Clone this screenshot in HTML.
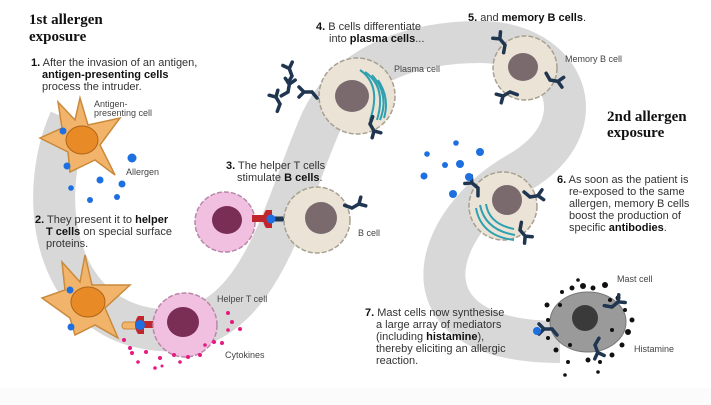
<!DOCTYPE html>
<html><head><meta charset="utf-8"><style>
html,body{margin:0;padding:0;background:#fff;}
svg{display:block;}
text{font-family:"Liberation Sans",sans-serif;font-size:11px;fill:#333;}
.h{font-family:"Liberation Serif",serif;font-weight:bold;font-size:15px;fill:#111;}
.l{font-size:9px;fill:#444;}
b,.b{font-weight:bold;fill:#111;}
</style></head><body>
<svg width="711" height="405" viewBox="0 0 711 405" xmlns="http://www.w3.org/2000/svg">
<defs>
<g id="ab"><path d="M0,0 L0,-8 M0,0 L-6,5 M0,-8 L-5,-13 M0,-8 L5,-13" stroke="#1f3550" stroke-width="3.5" fill="none" stroke-linecap="round"/></g>
</defs>
<rect x="0" y="388" width="711" height="17" fill="#fbfbfb"/>
<!-- band -->
<path d="M70,120 C35,200 55,322 160,330 C262,338 285,200 322,120 C352,60 420,42 480,42 C565,42 600,125 520,172 C430,222 395,342 560,342" fill="none" stroke="#d8d8d8" stroke-width="42"/>

<!-- APC 1 -->
<path d="M80,98 L88,125 L120,118 L100,145 L115,175 L95,160 L70,172 L68,152 L40,138 L62,128 L58,102 L75,120 Z" fill="#f2b46a" stroke="#c98a3c" stroke-width="1.5"/>
<ellipse cx="82" cy="140" rx="16" ry="14" fill="#e88a25" stroke="#b0641a"/>
<circle cx="63" cy="131" r="3.5" fill="#1e6fe0"/><circle cx="67" cy="166" r="3.5" fill="#1e6fe0"/>
<g fill="#1e6fe0"><circle cx="132" cy="158" r="4.5"/><circle cx="100" cy="180" r="3.5"/><circle cx="122" cy="184" r="3.5"/><circle cx="71" cy="188" r="2.8"/><circle cx="90" cy="200" r="3"/><circle cx="117" cy="197" r="3"/></g>

<!-- APC 2 -->
<path d="M85,255 L92,285 L130,285 L105,308 L118,338 L95,325 L75,335 L70,318 L42,298 L65,290 L62,262 L80,282 Z" fill="#f2b46a" stroke="#c98a3c" stroke-width="1.5"/>
<ellipse cx="88" cy="302" rx="17" ry="15" fill="#e88a25" stroke="#b0641a"/>
<circle cx="70" cy="290" r="3.5" fill="#1e6fe0"/><circle cx="71" cy="327" r="3.5" fill="#1e6fe0"/>
<rect x="122" y="322" width="16" height="7" rx="3" fill="#f2b46a" stroke="#c98a3c"/>
<path d="M138,316 q-6,9 0,18 l6,0 l0,-18z" fill="#c0272d"/><rect x="143" y="321" width="16" height="7" fill="#c0272d"/>
<circle cx="140" cy="325" r="5" fill="#1e6fe0"/>

<!-- Helper T cell bottom -->
<circle cx="185" cy="325" r="32" fill="#f1bfe0" stroke="#b888a8" stroke-dasharray="5 2" stroke-width="1.5"/>
<ellipse cx="183" cy="322" rx="16" ry="15" fill="#7a2d55"/>
<g fill="#e6197f"><circle cx="228" cy="313" r="2"/><circle cx="232" cy="322" r="2"/><circle cx="240" cy="329" r="2"/><circle cx="222" cy="343" r="2"/><circle cx="214" cy="342" r="2"/><circle cx="200" cy="355" r="2"/><circle cx="188" cy="357" r="2"/><circle cx="174" cy="355" r="2"/><circle cx="160" cy="358" r="2"/><circle cx="146" cy="352" r="2"/><circle cx="132" cy="353" r="2"/><circle cx="138" cy="362" r="1.8"/><circle cx="124" cy="340" r="2"/><circle cx="130" cy="348" r="2"/><circle cx="155" cy="368" r="1.8"/><circle cx="162" cy="366" r="1.5"/><circle cx="180" cy="362" r="1.8"/><circle cx="205" cy="345" r="1.8"/><circle cx="228" cy="330" r="1.8"/></g>

<!-- Helper T cell mid -->
<circle cx="225" cy="222" r="30" fill="#f1bfe0" stroke="#b888a8" stroke-dasharray="5 2" stroke-width="1.5"/>
<ellipse cx="227" cy="220" rx="15" ry="14" fill="#7a2d55"/>
<rect x="252" y="215" width="14" height="7" fill="#c0272d"/>
<path d="M266,210 q-6,9 0,18 l6,0 l0,-18z" fill="#c0272d"/>
<path d="M268,219 L290,219" stroke="#1f3550" stroke-width="5"/>
<circle cx="271" cy="219" r="4.5" fill="#1e6fe0"/>

<!-- B cell -->
<circle cx="317" cy="220" r="33" fill="#ebe4d6" stroke="#a8a090" stroke-dasharray="5 2" stroke-width="1.5"/>
<ellipse cx="321" cy="218" rx="16" ry="16" fill="#7a6a6e"/>
<use href="#ab" transform="translate(352,208) rotate(60)"/>

<!-- Plasma cell -->
<circle cx="357" cy="96" r="38" fill="#ebe4d6" stroke="#a8a090" stroke-dasharray="5 2" stroke-width="1.5"/>
<ellipse cx="352" cy="96" rx="17" ry="16" fill="#7a6a6e"/>
<g fill="none" stroke="#2fa0b0" stroke-width="2"><path d="M360,70 q22,15 10,50"/><path d="M365,72 q22,15 12,48"/><path d="M372,75 q18,20 8,45"/><path d="M378,80 q12,18 6,38"/></g>
<use href="#ab" transform="translate(312,92) rotate(-90)"/>
<use href="#ab" transform="translate(370,124) rotate(150)"/>
<use href="#ab" transform="translate(292,76) rotate(-20)"/>
<use href="#ab" transform="translate(288,92) rotate(10)"/>
<use href="#ab" transform="translate(280,104) rotate(-30)"/>

<!-- Memory B cell top -->
<circle cx="525" cy="68" r="32" fill="#ebe4d6" stroke="#a8a090" stroke-dasharray="5 2" stroke-width="1.5"/>
<ellipse cx="523" cy="67" rx="15" ry="14" fill="#7a6a6e"/>
<use href="#ab" transform="translate(505,45) rotate(-40)"/>
<use href="#ab" transform="translate(550,80) rotate(100)"/>
<use href="#ab" transform="translate(510,92) rotate(-120)"/>

<!-- Memory B cell 2 -->
<circle cx="503" cy="206" r="34" fill="#ebe4d6" stroke="#a8a090" stroke-dasharray="5 2" stroke-width="1.5"/>
<ellipse cx="507" cy="200" rx="15" ry="15" fill="#7a6a6e"/>
<g fill="none" stroke="#2fa0b0" stroke-width="2"><path d="M480,205 q5,25 35,30"/><path d="M476,208 q5,28 38,32"/><path d="M486,204 q3,20 28,25"/></g>
<use href="#ab" transform="translate(478,188) rotate(-50)"/>
<use href="#ab" transform="translate(530,197) rotate(80)"/>
<use href="#ab" transform="translate(520,230) rotate(140)"/>
<g fill="#1e6fe0"><circle cx="427" cy="154" r="2.8"/><circle cx="456" cy="143" r="2.8"/><circle cx="480" cy="152" r="4"/><circle cx="445" cy="165" r="3"/><circle cx="460" cy="164" r="4"/><circle cx="424" cy="176" r="3.5"/><circle cx="469" cy="177" r="4"/><circle cx="453" cy="194" r="4"/></g>

<!-- Mast cell -->
<ellipse cx="588" cy="322" rx="38" ry="30" fill="#9a9a9a" stroke="#777"/>
<ellipse cx="585" cy="318" rx="13" ry="13" fill="#3a3a3a"/>
<g fill="#111"><circle cx="562" cy="292" r="2"/><circle cx="572" cy="288" r="2.5"/><circle cx="583" cy="286" r="3"/><circle cx="593" cy="288" r="2.5"/><circle cx="605" cy="285" r="3"/><circle cx="618" cy="298" r="2.5"/><circle cx="625" cy="310" r="2"/><circle cx="632" cy="320" r="2.5"/><circle cx="628" cy="332" r="3"/><circle cx="622" cy="345" r="2.5"/><circle cx="612" cy="355" r="2.5"/><circle cx="600" cy="362" r="2"/><circle cx="588" cy="360" r="2.5"/><circle cx="568" cy="362" r="2"/><circle cx="556" cy="350" r="2.5"/><circle cx="548" cy="338" r="2"/><circle cx="548" cy="320" r="2"/><circle cx="547" cy="305" r="2.5"/><circle cx="560" cy="305" r="2"/><circle cx="610" cy="300" r="2"/><circle cx="612" cy="330" r="2"/><circle cx="570" cy="345" r="2"/><circle cx="565" cy="375" r="1.8"/><circle cx="598" cy="372" r="1.8"/><circle cx="578" cy="280" r="1.8"/></g>
<use href="#ab" transform="translate(552,329) rotate(-90)"/>
<use href="#ab" transform="translate(612,307) rotate(50)"/>
<use href="#ab" transform="translate(595,345) rotate(160)"/>
<circle cx="537" cy="331" r="4" fill="#1e6fe0"/>

<!-- text -->
<text class="h" x="29" y="24">1st allergen</text>
<text class="h" x="29" y="41">exposure</text>
<text x="31" y="66"><tspan class="b">1.</tspan> After the invasion of an antigen,</text>
<text x="42" y="78" class="b">antigen-presenting cells</text>
<text x="42" y="90">process the intruder.</text>
<text class="l" x="94" y="107">Antigen-</text>
<text class="l" x="94" y="116">presenting cell</text>
<text class="l" x="126" y="175">Allergen</text>
<text x="35" y="223"><tspan class="b">2.</tspan> They present it to <tspan class="b">helper</tspan></text>
<text x="46" y="235"><tspan class="b">T cells</tspan> on special surface</text>
<text x="46" y="247">proteins.</text>
<text x="226" y="169"><tspan class="b">3.</tspan> The helper T cells</text>
<text x="237" y="181">stimulate <tspan class="b">B cells</tspan>.</text>
<text class="l" x="358" y="236">B cell</text>
<text class="l" x="217" y="302">Helper T cell</text>
<text class="l" x="225" y="358">Cytokines</text>
<text x="316" y="30"><tspan class="b">4.</tspan> B cells differentiate</text>
<text x="329" y="42">into <tspan class="b">plasma cells</tspan>...</text>
<text class="l" x="394" y="72">Plasma cell</text>
<text x="468" y="21"><tspan class="b">5.</tspan> and <tspan class="b">memory B cells</tspan>.</text>
<text class="l" x="565" y="62">Memory B cell</text>
<text class="h" x="607" y="121">2nd allergen</text>
<text class="h" x="607" y="137">exposure</text>
<text x="557" y="183"><tspan class="b">6.</tspan> As soon as the patient is</text>
<text x="569" y="195">re-exposed to the same</text>
<text x="569" y="207">allergen, memory B cells</text>
<text x="569" y="219">boost the production of</text>
<text x="569" y="231">specific <tspan class="b">antibodies</tspan>.</text>
<text class="l" x="617" y="282">Mast cell</text>
<text class="l" x="634" y="352">Histamine</text>
<text x="365" y="316"><tspan class="b">7.</tspan> Mast cells now synthesise</text>
<text x="376" y="328">a large array of mediators</text>
<text x="376" y="340">(including <tspan class="b">histamine</tspan>),</text>
<text x="376" y="352">thereby eliciting an allergic</text>
<text x="376" y="364">reaction.</text>
</svg>
</body></html>
